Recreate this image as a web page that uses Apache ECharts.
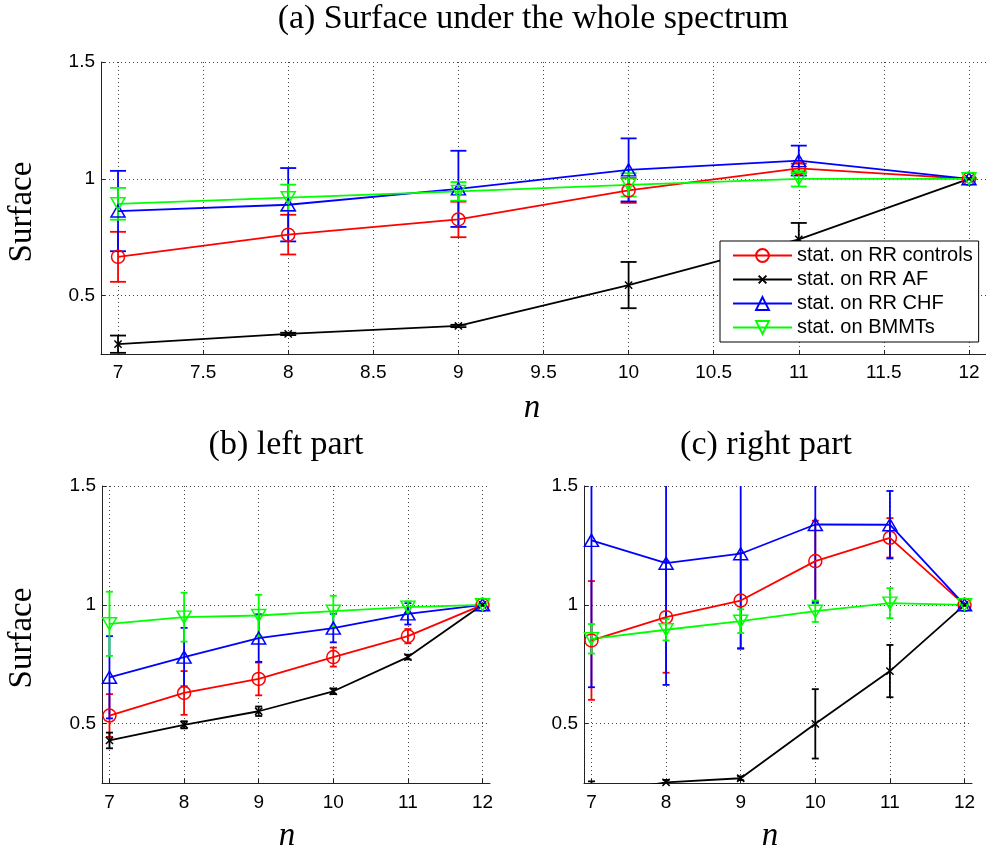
<!DOCTYPE html>
<html>
<head>
<meta charset="utf-8">
<script src="https://cdn.jsdelivr.net/npm/echarts@6/dist/echarts.min.js"></script>
<style>
html,body{margin:0;padding:0;background:#fff;}
#chart{width:986px;height:854px;}
</style>
</head>
<body>
<div id="chart"></div>
<script>
// ---------- data ----------
const xs = [7, 8, 9, 10, 11, 12];
const seriesNames = ['stat. on RR controls', 'stat. on RR AF', 'stat. on RR CHF', 'stat. on BMMTs'];

// (a) whole spectrum
const a_ctrl = [0.666, 0.761, 0.826, 0.950, 1.045, 1.0];
const a_ctrl_err = [0.107, 0.085, 0.076, 0.053, 0.020, 0];
const a_af = [0.292, 0.336, 0.370, 0.545, 0.741, 1.0];
const a_af_err = [0.037, 0.005, 0.005, 0.099, 0.070, 0];
const a_chf = [0.862, 0.889, 0.957, 1.038, 1.078, 1.0];
const a_chf_err = [0.172, 0.157, 0.163, 0.135, 0.064, 0];
const a_bmm = [0.893, 0.919, 0.946, 0.974, 1.000, 1.0];
const a_bmm_err = [0.068, 0.056, 0.040, 0.050, 0.033, 0];

// (b) left part
const b_ctrl = [0.534, 0.629, 0.688, 0.780, 0.868, 1.0];
const b_ctrl_err = [0.090, 0.092, 0.069, 0.040, 0.030, 0];
const b_af = [0.429, 0.495, 0.552, 0.636, 0.780, 1.0];
const b_af_err = [0.033, 0.015, 0.020, 0.012, 0.010, 0];
const b_chf = [0.695, 0.780, 0.860, 0.902, 0.962, 1.0];
const b_chf_err = [0.173, 0.123, 0.100, 0.060, 0.045, 0];
const b_bmm = [0.920, 0.948, 0.955, 0.973, 0.990, 1.0];
const b_bmm_err = [0.135, 0.103, 0.087, 0.065, 0.024, 0];

// (c) right part
const c_ctrl = [0.850, 0.948, 1.018, 1.184, 1.282, 1.0];
const c_ctrl_err = [0.250, 0.234, 0.200, 0.170, 0.083, 0];
const c_af = [0.200, 0.253, 0.270, 0.499, 0.721, 1.0];
const c_af_err = [0.057, 0.010, 0.008, 0.146, 0.110, 0];
const c_chf = [1.271, 1.175, 1.215, 1.338, 1.337, 1.0];
const c_chf_err = [0.618, 0.512, 0.400, 0.330, 0.142, 0];
const c_bmm = [0.857, 0.895, 0.931, 0.973, 1.007, 1.0];
const c_bmm_err = [0.062, 0.045, 0.050, 0.045, 0.063, 0];

// tick labels
const xTicksTop = [7, 7.5, 8, 8.5, 9, 9.5, 10, 10.5, 11, 11.5, 12];
const xTicksBottom = [7, 8, 9, 10, 11, 12];
const yTicks = [0.5, 1, 1.5];

// ---------- styling ----------
const colors = ['#ff0000', '#000000', '#0000ff', '#00ff00'];
const xPath = 'path://M0 0L0 0M2 2L8 8M8 2L2 8M10 10L10 10';
const symbols = ['circle', xPath, 'triangle', 'triangle'];
const symbolSizes = [13, 12, [14, 12], [14, 12]];
const symbolRotates = [0, 0, 0, 180];

const panels = [
  { means: [a_ctrl, a_af, a_chf, a_bmm], errs: [a_ctrl_err, a_af_err, a_chf_err, a_bmm_err], cap: 8 },
  { means: [b_ctrl, b_af, b_chf, b_bmm], errs: [b_ctrl_err, b_af_err, b_chf_err, b_bmm_err], cap: 3.5 },
  { means: [c_ctrl, c_af, c_chf, c_bmm], errs: [c_ctrl_err, c_af_err, c_chf_err, c_bmm_err], cap: 3.5 }
];

const grids = [
  { left: 101, top: 62, width: 885, height: 292 },
  { left: 102, top: 486, width: 388, height: 297 },
  { left: 584, top: 486, width: 388, height: 297 }
];

const gridLine = { show: true, lineStyle: { color: '#444', type: [1, 3], width: 1 } };
const axisLine = { show: true, onZero: false, lineStyle: { color: '#222', width: 1 } };
const labelFont = { fontFamily: 'Liberation Sans', fontSize: 19, color: '#000' };

function makeXAxis(i, ticks, margin) {
  return {
    type: 'value', gridIndex: i, min: 6.9, max: 12.1,
    axisLine: axisLine,
    axisTick: { show: true, inside: true, length: 4, customValues: ticks, lineStyle: { color: '#222' } },
    axisLabel: Object.assign({ customValues: ticks, margin: margin, formatter: v => String(v) }, labelFont),
    splitLine: gridLine
  };
}
function makeYAxis(i) {
  return {
    type: 'value', gridIndex: i, min: 0.25, max: 1.5,
    axisLine: axisLine,
    axisTick: { show: true, inside: true, length: 4, customValues: yTicks, lineStyle: { color: '#222' } },
    axisLabel: Object.assign({ customValues: yTicks, margin: 6, formatter: v => String(v) }, labelFont),
    splitLine: gridLine
  };
}

function ebRender(cap, color) {
  return function (params, api) {
    const x = api.value(0), y = api.value(1), e = api.value(2);
    const t = api.coord([x, y + e]);
    const b = api.coord([x, y - e]);
    const st = { stroke: color, lineWidth: 1.8 };
    return {
      type: 'group',
      children: [
        { type: 'line', shape: { x1: t[0], y1: t[1], x2: b[0], y2: b[1] }, style: st },
        { type: 'line', shape: { x1: t[0] - cap, y1: t[1], x2: t[0] + cap, y2: t[1] }, style: st },
        { type: 'line', shape: { x1: b[0] - cap, y1: b[1], x2: b[0] + cap, y2: b[1] }, style: st }
      ]
    };
  };
}

const series = [];
panels.forEach((p, gi) => {
  for (let k = 0; k < 4; k++) {
    series.push({
      type: 'custom', name: 'eb' + gi + k, xAxisIndex: gi, yAxisIndex: gi,
      clip: true, silent: true,
      renderItem: ebRender(p.cap, colors[k]),
      data: xs.map((x, j) => [x, p.means[k][j], p.errs[k][j]]),
      z: 2
    });
    series.push({
      type: 'line', name: seriesNames[k], xAxisIndex: gi, yAxisIndex: gi,
      data: xs.map((x, j) => [x, p.means[k][j]]),
      symbol: symbols[k], symbolSize: symbolSizes[k], symbolRotate: symbolRotates[k],
      showSymbol: true, clip: true, silent: true,
      lineStyle: { color: colors[k], width: 1.8 },
      itemStyle: { color: 'none', borderColor: colors[k], borderWidth: 1.5 },
      emphasis: { disabled: true },
      z: 3
    });
  }
});

const serif = '"Liberation Serif", "DejaVu Serif", serif';
function txt(x, y, text, size, opts) {
  return Object.assign({
    type: 'text', x: x, y: y, z: 10,
    style: { text: text, font: (opts && opts.italic ? 'italic ' : '') + size + 'px ' + serif, fill: '#000', align: 'center', verticalAlign: 'middle' }
  }, opts && opts.extra ? opts.extra : {});
}

const option = {
  animation: false,
  backgroundColor: '#fff',
  textStyle: { fontFamily: 'Liberation Sans' },
  grid: grids.map(g => Object.assign({ containLabel: false }, g)),
  xAxis: [makeXAxis(0, xTicksTop, 9), makeXAxis(1, xTicksBottom, 10), makeXAxis(2, xTicksBottom, 10)],
  yAxis: [makeYAxis(0), makeYAxis(1), makeYAxis(2)],
  legend: {
    data: seriesNames, orient: 'vertical', left: 720, top: 241,
    itemWidth: 59, itemHeight: 16, itemGap: 3,
    padding: [4, 6, 4, 12],
    borderColor: '#000', borderWidth: 1, backgroundColor: '#fff',
    selectedMode: false,
    textStyle: { fontFamily: 'Liberation Sans', fontSize: 20, color: '#000', lineHeight: 21 }
  },
  graphic: [
    txt(533, 19, '(a) Surface under the whole spectrum', 34),
    txt(286, 445, '(b) left part', 34),
    txt(766, 445, '(c) right part', 34),
    txt(532, 408, 'n', 33, { italic: true }),
    txt(287, 836, 'n', 33, { italic: true }),
    txt(770, 836, 'n', 33, { italic: true }),
    txt(22, 212, 'Surface', 33, { extra: { rotation: Math.PI / 2 } }),
    txt(22, 638, 'Surface', 33, { extra: { rotation: Math.PI / 2 } })
  ],
  series: series
};

const chart = echarts.init(document.getElementById('chart'));
chart.setOption(option);
</script>
</body>
</html>
